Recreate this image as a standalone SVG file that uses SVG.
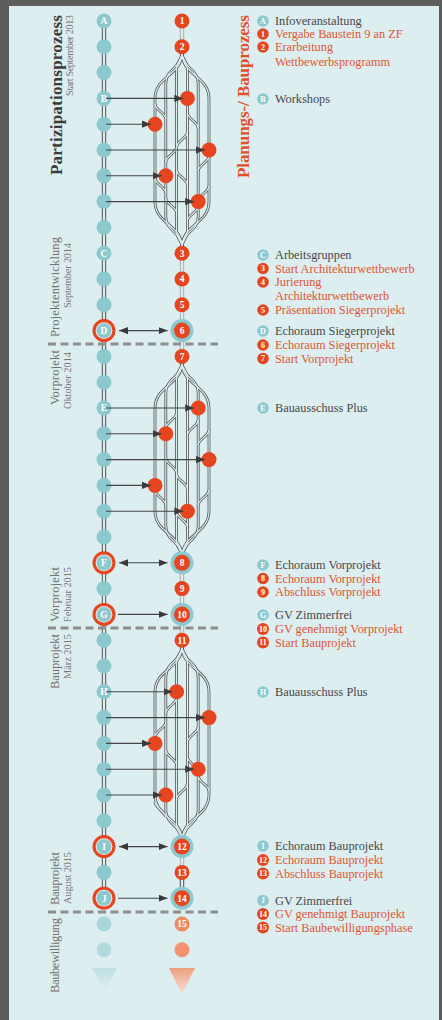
<svg xmlns="http://www.w3.org/2000/svg" width="442" height="1020" viewBox="0 0 442 1020">
<style>
.panel{fill:#ddeef0}
.t{fill:#8bc9ce}
.o{fill:#e5461f}
.nt{font-family:"Liberation Serif","DejaVu Serif",serif;font-weight:bold;font-size:9.5px;fill:#fff;text-anchor:middle}
.leg{font-family:"Liberation Serif","DejaVu Serif",serif;font-size:12.3px}
.lg{fill:#474747}
.lo{fill:#e05530}
.it{font-family:"Liberation Serif","DejaVu Serif",serif;font-weight:bold;font-size:8px;fill:#fff;text-anchor:middle}
.ro{fill:none;stroke:#555;stroke-width:2.8}
.ri{fill:none;stroke:#ddeef0;stroke-width:1.2}
.col{fill:none;stroke:#5e5e5e;stroke-width:4.4}
.lite{fill:none;stroke:#b3b3b3;stroke-width:4.4}
.colin{fill:none;stroke:#ddeef0;stroke-width:2.2}
.arr{fill:none;stroke:#454545;stroke-width:1.1;marker-end:url(#ah)}
.arr2{fill:none;stroke:#454545;stroke-width:1.1;marker-start:url(#ah);marker-end:url(#ah)}
.dash{stroke:#8e8e8e;stroke-width:3;stroke-dasharray:8 4.5}
.title{font-family:"Liberation Serif","DejaVu Serif",serif;font-weight:bold;font-size:17px}
.lab{font-family:"Liberation Serif","DejaVu Serif",serif;font-size:12.5px;fill:#6f6f6f}
.sub{font-family:"Liberation Serif","DejaVu Serif",serif;font-size:10.3px;fill:#767676}
</style>
<defs>
<marker id="ah" markerUnits="userSpaceOnUse" markerWidth="10" markerHeight="8" refX="9" refY="4" orient="auto-start-reverse"><path d="M0,0.4 L9,4 L0,7.6z" fill="#3a3a3a"/></marker>
<linearGradient id="gt" x1="0" y1="0" x2="0" y2="1"><stop offset="0" stop-color="#bfe0e3"/><stop offset="1" stop-color="#ddeef0"/></linearGradient>
<linearGradient id="go" x1="0" y1="0" x2="0" y2="1"><stop offset="0" stop-color="#eb9f7f"/><stop offset="1" stop-color="#f9e0d4"/></linearGradient>
<g id="lanes">
<path d="M182,6 C182,28.9 155,28.9 155,51.8 V154.6 C155,177.5 182,177.5 182,200.4"/>
<path d="M182,6 C182,28.9 209,28.9 209,51.8 V154.6 C209,177.5 182,177.5 182,200.4"/>
<path d="M182,6 C182,21.35 165.8,21.35 165.8,36.7 V169.7 C165.8,185.05 182,185.05 182,200.4"/>
<path d="M182,6 C182,21.35 198.2,21.35 198.2,36.7 V169.7 C198.2,185.05 182,185.05 182,200.4"/>
<path d="M182,6 C182,13.8 176.6,13.8 176.6,21.6 V184.8 C176.6,192.6 182,192.6 182,200.4"/>
<path d="M182,6 C182,13.8 187.4,13.8 187.4,21.6 V184.8 C187.4,192.6 182,192.6 182,200.4"/>
</g>
<g id="x1">
<path d="M155,104 C155,110 165.8,113 165.8,119"/>
<path d="M187.4,113 C187.4,119 198.2,122 198.2,128"/>
<path d="M187.4,132 C187.4,138 176.6,141 176.6,147"/>
<path d="M176.6,147 C176.6,153 165.8,156 165.8,162"/>
<path d="M209,156 C209,162 198.2,165 198.2,171"/>
<path d="M176.6,170 C176.6,176 187.4,179 187.4,185"/>
<path d="M155,178 C155,184 165.8,187 165.8,193"/>
<path d="M209,186 C209,192 198.2,195 198.2,201"/>
<path d="M165.8,198 C165.8,204 176.6,207 176.6,213"/>
<path d="M198.2,206 C198.2,212 187.4,215 187.4,221"/>
</g>
<g id="x2">
<path d="M176.6,413 C176.6,419 165.8,422 165.8,428"/>
<path d="M198.2,420 C198.2,426 187.4,429 187.4,435"/>
<path d="M209,430 C209,436 198.2,439 198.2,445"/>
<path d="M165.8,458 C165.8,464 176.6,467 176.6,473"/>
<path d="M176.6,474 C176.6,480 187.4,483 187.4,489"/>
<path d="M209,490 C209,496 198.2,499 198.2,505"/>
<path d="M155,490 C155,496 165.8,499 165.8,505"/>
<path d="M176.6,512 C176.6,518 187.4,521 187.4,527"/>
</g>
<g id="x3">
<path d="M176.6,698 C176.6,704 165.8,707 165.8,713"/>
<path d="M165.8,722 C165.8,728 155,731 155,737"/>
<path d="M198.2,727 C198.2,733 187.4,736 187.4,742"/>
<path d="M165.8,750 C165.8,756 176.6,759 176.6,765"/>
<path d="M187.4,757 C187.4,763 198.2,766 198.2,772"/>
<path d="M198.2,776 C198.2,782 209,785 209,791"/>
<path d="M187.4,784 C187.4,790 176.6,793 176.6,799"/>
<path d="M155,802 C155,808 165.8,811 165.8,817"/>
</g>
</defs>

<rect x="0" y="0" width="442" height="1020" fill="#5c5c5c"/>
<rect class="panel" x="9" y="6" width="430" height="1014"/>

<g id="titles">
<text class="title" fill="#3b3b3b" text-anchor="end" textLength="160" transform="translate(61.5,15) rotate(-90)">Partizipationsprozess</text>
<text class="sub" text-anchor="end" textLength="81" transform="translate(72.5,15) rotate(-90)">Start September 2013</text>
<text class="title" fill="#e3502a" text-anchor="end" textLength="163" transform="translate(249,15) rotate(-90)">Planungs-/ Bauprozess</text>
<text class="lab" textLength="100" transform="translate(59,337) rotate(-90)">Projektentwicklung</text>
<text class="sub" textLength="65" transform="translate(70.5,308) rotate(-90)">September 2014</text>
<text class="lab" textLength="55" transform="translate(59,405) rotate(-90)">Vorprojekt</text>
<text class="sub" textLength="57" transform="translate(70.5,409) rotate(-90)">Oktober 2014</text>
<text class="lab" textLength="55" transform="translate(59,622) rotate(-90)">Vorprojekt</text>
<text class="sub" textLength="55" transform="translate(70.5,622) rotate(-90)">Februar 2015</text>
<text class="lab" textLength="55" transform="translate(59,689) rotate(-90)">Bauprojekt</text>
<text class="sub" textLength="45" transform="translate(70.5,679) rotate(-90)">März 2015</text>
<text class="lab" textLength="53" transform="translate(59,905) rotate(-90)">Bauprojekt</text>
<text class="sub" textLength="52" transform="translate(70.5,904) rotate(-90)">August 2015</text>
<text class="lab" textLength="75" transform="translate(59,993) rotate(-90)">Baubewilligung</text>
</g>

<g id="connectors">
<path class="col" d="M104,21 V898.2"/><path class="colin" d="M104,21 V898.2"/>
<path class="lite" d="M182,21 V46.8 M182,253.2 V356.4 M182,562.8 V640.2 M182,846.6 V872.4"/>
<path class="col" d="M182,872.4 V898.2"/>
<path class="colin" d="M182,21 V46.8 M182,253.2 V356.4 M182,562.8 V640.2 M182,846.6 V898.2"/>
<g id="net1-rails">
<use href="#lanes" class="ro" transform="translate(0,46.8)"/><use href="#x1" class="ro"/>
<use href="#lanes" class="ri" transform="translate(0,46.8)"/><use href="#x1" class="ri"/>
</g>
<g id="net2-rails">
<use href="#lanes" class="ro" transform="translate(0,356.4)"/><use href="#x2" class="ro"/>
<use href="#lanes" class="ri" transform="translate(0,356.4)"/><use href="#x2" class="ri"/>
</g>
<g id="net3-rails">
<use href="#lanes" class="ro" transform="translate(0,640.2)"/><use href="#x3" class="ro"/>
<use href="#lanes" class="ri" transform="translate(0,640.2)"/><use href="#x3" class="ri"/>
</g>
<line class="dash" x1="48" y1="344" x2="218" y2="344"/>
<line class="dash" x1="48" y1="628" x2="218" y2="628"/>
<line class="dash" x1="48" y1="912" x2="218" y2="912"/>
</g>

<g id="left-nodes">
<g id="nA"><circle class="t" cx="104" cy="21" r="7.5"/><text class="nt" x="104" y="24.3">A</text></g>
<g id="l1"><circle class="t" cx="104" cy="46.8" r="7.5"/></g>
<g id="l2"><circle class="t" cx="104" cy="72.6" r="7.5"/></g>
<g id="nB"><circle class="t" cx="104" cy="98.4" r="7.5"/><text class="nt" x="104" y="101.7">B</text></g>
<g id="l4"><circle class="t" cx="104" cy="124.2" r="7.5"/></g>
<g id="l5"><circle class="t" cx="104" cy="150" r="7.5"/></g>
<g id="l6"><circle class="t" cx="104" cy="175.8" r="7.5"/></g>
<g id="l7"><circle class="t" cx="104" cy="201.6" r="7.5"/></g>
<g id="l8"><circle class="t" cx="104" cy="227.4" r="7.5"/></g>
<g id="nC"><circle class="t" cx="104" cy="253.2" r="7.5"/><text class="nt" x="104" y="256.5">C</text></g>
<g id="l10"><circle class="t" cx="104" cy="279" r="7.5"/></g>
<g id="l11"><circle class="t" cx="104" cy="304.8" r="7.5"/></g>
<g id="nD"><circle class="o" cx="104" cy="330.6" r="11.5"/><circle fill="#f4f4f4" cx="104" cy="330.6" r="8.4"/><circle class="t" cx="104" cy="330.6" r="7.6"/><text class="nt" x="104" y="333.9">D</text></g>
<g id="l13"><circle class="t" cx="104" cy="356.4" r="7.5"/></g>
<g id="l14"><circle class="t" cx="104" cy="382.2" r="7.5"/></g>
<g id="nE"><circle class="t" cx="104" cy="408" r="7.5"/><text class="nt" x="104" y="411.3">E</text></g>
<g id="l16"><circle class="t" cx="104" cy="433.8" r="7.5"/></g>
<g id="l17"><circle class="t" cx="104" cy="459.6" r="7.5"/></g>
<g id="l18"><circle class="t" cx="104" cy="485.4" r="7.5"/></g>
<g id="l19"><circle class="t" cx="104" cy="511.2" r="7.5"/></g>
<g id="l20"><circle class="t" cx="104" cy="537" r="7.5"/></g>
<g id="nF"><circle class="o" cx="104" cy="562.8" r="11.5"/><circle fill="#f4f4f4" cx="104" cy="562.8" r="8.4"/><circle class="t" cx="104" cy="562.8" r="7.6"/><text class="nt" x="104" y="566.1">F</text></g>
<g id="l22"><circle class="t" cx="104" cy="588.6" r="7.5"/></g>
<g id="nG"><circle class="o" cx="104" cy="614.4" r="11.5"/><circle fill="#f4f4f4" cx="104" cy="614.4" r="8.4"/><circle class="t" cx="104" cy="614.4" r="7.6"/><text class="nt" x="104" y="617.7">G</text></g>
<g id="l24"><circle class="t" cx="104" cy="640.2" r="7.5"/></g>
<g id="l25"><circle class="t" cx="104" cy="666" r="7.5"/></g>
<g id="nH"><circle class="t" cx="104" cy="691.8" r="7.5"/><text class="nt" x="104" y="695.1">H</text></g>
<g id="l27"><circle class="t" cx="104" cy="717.6" r="7.5"/></g>
<g id="l28"><circle class="t" cx="104" cy="743.4" r="7.5"/></g>
<g id="l29"><circle class="t" cx="104" cy="769.2" r="7.5"/></g>
<g id="l30"><circle class="t" cx="104" cy="795" r="7.5"/></g>
<g id="l31"><circle class="t" cx="104" cy="820.8" r="7.5"/></g>
<g id="nI"><circle class="o" cx="104" cy="846.6" r="11.5"/><circle fill="#f4f4f4" cx="104" cy="846.6" r="8.4"/><circle class="t" cx="104" cy="846.6" r="7.6"/><text class="nt" x="104" y="849.9">I</text></g>
<g id="l33"><circle class="t" cx="104" cy="872.4" r="7.5"/></g>
<g id="nJ"><circle class="o" cx="104" cy="898.2" r="11.5"/><circle fill="#f4f4f4" cx="104" cy="898.2" r="8.4"/><circle class="t" cx="104" cy="898.2" r="7.6"/><text class="nt" x="104" y="901.5">J</text></g>
<g id="l35"><circle fill="#a8d6d9" cx="104" cy="924" r="7.5"/></g>
<g id="l36"><circle fill="#b2dadd" cx="104" cy="949.8" r="7.5"/></g>
<g id="l-end"><polygon points="92,968 117,968 104.5,991" fill="url(#gt)"/></g>
</g>

<g id="right-nodes">
<g id="n1"><circle class="o" cx="182" cy="21" r="7.5"/><text class="nt" x="182" y="24.3">1</text></g>
<g id="n2"><circle class="o" cx="182" cy="46.8" r="7.5"/><text class="nt" x="182" y="50.1">2</text></g>
<g id="n3"><circle class="o" cx="182" cy="253.2" r="7.5"/><text class="nt" x="182" y="256.5">3</text></g>
<g id="n4"><circle class="o" cx="182" cy="279" r="7.5"/><text class="nt" x="182" y="282.3">4</text></g>
<g id="n5"><circle class="o" cx="182" cy="304.8" r="7.5"/><text class="nt" x="182" y="308.1">5</text></g>
<g id="n6"><circle class="t" cx="182" cy="330.6" r="11.5"/><circle class="o" cx="182" cy="330.6" r="8"/><text class="nt" x="182" y="333.9">6</text></g>
<g id="n7"><circle class="o" cx="182" cy="356.4" r="7.5"/><text class="nt" x="182" y="359.7">7</text></g>
<g id="n8"><circle class="t" cx="182" cy="562.8" r="11.5"/><circle class="o" cx="182" cy="562.8" r="8"/><text class="nt" x="182" y="566.1">8</text></g>
<g id="n9"><circle class="o" cx="182" cy="588.6" r="7.5"/><text class="nt" x="182" y="591.9">9</text></g>
<g id="n10"><circle class="t" cx="182" cy="614.4" r="11.5"/><circle class="o" cx="182" cy="614.4" r="8"/><text class="nt" x="182" y="617.7">10</text></g>
<g id="n11"><circle class="o" cx="182" cy="640.2" r="7.5"/><text class="nt" x="182" y="643.5">11</text></g>
<g id="n12"><circle class="t" cx="182" cy="846.6" r="11.5"/><circle class="o" cx="182" cy="846.6" r="8"/><text class="nt" x="182" y="849.9">12</text></g>
<g id="n13"><circle class="o" cx="182" cy="872.4" r="7.5"/><text class="nt" x="182" y="875.7">13</text></g>
<g id="n14"><circle class="t" cx="182" cy="898.2" r="11.5"/><circle class="o" cx="182" cy="898.2" r="8"/><text class="nt" x="182" y="901.5">14</text></g>
<g id="n15"><circle fill="#ee8a61" cx="182" cy="924" r="7.5"/><text class="nt" x="182" y="927.3">15</text></g>
<g id="r16"><circle fill="#f0936e" cx="182" cy="949.8" r="7.5"/></g>
<g id="r-end"><polygon points="169,968 195,968 182,994" fill="url(#go)"/></g>
</g>

<g id="network-nodes">
<g id="p1a"><circle class="o" cx="187.4" cy="98.4" r="7.5"/></g>
<g id="p1b"><circle class="o" cx="155" cy="124.2" r="7.5"/></g>
<g id="p1c"><circle class="o" cx="209" cy="150" r="7.5"/></g>
<g id="p1d"><circle class="o" cx="165.8" cy="175.8" r="7.5"/></g>
<g id="p1e"><circle class="o" cx="198.2" cy="201.6" r="7.5"/></g>
<g id="p2a"><circle class="o" cx="198.2" cy="408" r="7.5"/></g>
<g id="p2b"><circle class="o" cx="165.8" cy="433.8" r="7.5"/></g>
<g id="p2c"><circle class="o" cx="209" cy="459.6" r="7.5"/></g>
<g id="p2d"><circle class="o" cx="155" cy="485.4" r="7.5"/></g>
<g id="p2e"><circle class="o" cx="187.4" cy="511.2" r="7.5"/></g>
<g id="p3a"><circle class="o" cx="176.6" cy="691.8" r="7.5"/></g>
<g id="p3b"><circle class="o" cx="209" cy="717.6" r="7.5"/></g>
<g id="p3c"><circle class="o" cx="155" cy="743.4" r="7.5"/></g>
<g id="p3d"><circle class="o" cx="198.2" cy="769.2" r="7.5"/></g>
<g id="p3e"><circle class="o" cx="165.8" cy="795" r="7.5"/></g>
</g>

<g id="arrows">
<line class="arr" x1="106" y1="98.4" x2="183.4" y2="98.4"/>
<line class="arr" x1="106" y1="124.2" x2="151" y2="124.2"/>
<line class="arr" x1="106" y1="150" x2="205" y2="150"/>
<line class="arr" x1="106" y1="175.8" x2="161.8" y2="175.8"/>
<line class="arr" x1="106" y1="201.6" x2="194.2" y2="201.6"/>
<line class="arr" x1="106" y1="408" x2="194.2" y2="408"/>
<line class="arr" x1="106" y1="433.8" x2="161.8" y2="433.8"/>
<line class="arr" x1="106" y1="459.6" x2="205" y2="459.6"/>
<line class="arr" x1="106" y1="485.4" x2="151" y2="485.4"/>
<line class="arr" x1="106" y1="511.2" x2="183.4" y2="511.2"/>
<line class="arr" x1="106" y1="691.8" x2="172.6" y2="691.8"/>
<line class="arr" x1="106" y1="717.6" x2="205" y2="717.6"/>
<line class="arr" x1="106" y1="743.4" x2="151" y2="743.4"/>
<line class="arr" x1="106" y1="769.2" x2="194.2" y2="769.2"/>
<line class="arr" x1="106" y1="795" x2="161.8" y2="795"/>
<line class="arr2" x1="119" y1="330.6" x2="167.5" y2="330.6"/>
<line class="arr2" x1="119" y1="562.8" x2="167.5" y2="562.8"/>
<line class="arr" x1="118" y1="614.4" x2="167.5" y2="614.4"/>
<line class="arr2" x1="119" y1="846.6" x2="167.5" y2="846.6"/>
<line class="arr" x1="118" y1="898.2" x2="167.5" y2="898.2"/>
</g>

<g id="legend" class="leg">
<circle class="t" cx="263" cy="21" r="5.8"/><text class="it" x="263" y="23.8">A</text><text class="lg" x="275" y="25">Infoveranstaltung</text>
<circle class="o" cx="263" cy="34" r="5.8"/><text class="it" x="263" y="36.8">1</text><text class="lo" x="275" y="38">Vergabe Baustein 9 an ZF</text>
<circle class="o" cx="263" cy="47" r="5.8"/><text class="it" x="263" y="49.8">2</text><text class="lo" x="275" y="51">Erarbeitung</text>
<text class="lo" x="275" y="65.5">Wettbewerbsprogramm</text>
<circle class="t" cx="263" cy="99" r="5.8"/><text class="it" x="263" y="101.8">B</text><text class="lg" x="275" y="103">Workshops</text>

<circle class="t" cx="263" cy="255" r="5.8"/><text class="it" x="263" y="257.8">C</text><text class="lg" x="275" y="259">Arbeitsgruppen</text>
<circle class="o" cx="263" cy="268.5" r="5.8"/><text class="it" x="263" y="271.3">3</text><text class="lo" x="275" y="272.5">Start Architekturwettbewerb</text>
<circle class="o" cx="263" cy="282" r="5.8"/><text class="it" x="263" y="284.8">4</text><text class="lo" x="275" y="286">Jurierung</text>
<text class="lo" x="275" y="300">Architekturwettbewerb</text>
<circle class="o" cx="263" cy="310" r="5.8"/><text class="it" x="263" y="312.8">5</text><text class="lo" x="275" y="314">Präsentation Siegerprojekt</text>
<circle class="t" cx="263" cy="331" r="5.8"/><text class="it" x="263" y="333.8">D</text><text class="lg" x="275" y="335">Echoraum Siegerprojekt</text>
<circle class="o" cx="263" cy="345" r="5.8"/><text class="it" x="263" y="347.8">6</text><text class="lo" x="275" y="349">Echoraum Siegerprojekt</text>
<circle class="o" cx="263" cy="358.5" r="5.8"/><text class="it" x="263" y="361.3">7</text><text class="lo" x="275" y="362.5">Start Vorprojekt</text>

<circle class="t" cx="263" cy="408" r="5.8"/><text class="it" x="263" y="410.8">E</text><text class="lg" x="275" y="412">Bauausschuss Plus</text>

<circle class="t" cx="263" cy="565" r="5.8"/><text class="it" x="263" y="567.8">F</text><text class="lg" x="275" y="569">Echoraum Vorprojekt</text>
<circle class="o" cx="263" cy="578.5" r="5.8"/><text class="it" x="263" y="581.3">8</text><text class="lo" x="275" y="582.5">Echoraum Vorprojekt</text>
<circle class="o" cx="263" cy="592" r="5.8"/><text class="it" x="263" y="594.8">9</text><text class="lo" x="275" y="596">Abschluss Vorprojekt</text>
<circle class="t" cx="263" cy="615" r="5.8"/><text class="it" x="263" y="617.8">G</text><text class="lg" x="275" y="619">GV Zimmerfrei</text>
<circle class="o" cx="263" cy="629" r="6"/><text class="it" x="263" y="631.8">10</text><text class="lo" x="275" y="633">GV genehmigt Vorprojekt</text>
<circle class="o" cx="263" cy="642.5" r="6"/><text class="it" x="263" y="645.3">11</text><text class="lo" x="275" y="646.5">Start Bauprojekt</text>

<circle class="t" cx="263" cy="692" r="5.8"/><text class="it" x="263" y="694.8">H</text><text class="lg" x="275" y="696">Bauausschuss Plus</text>

<circle class="t" cx="263" cy="846" r="5.8"/><text class="it" x="263" y="848.8">I</text><text class="lg" x="275" y="850">Echoraum Bauprojekt</text>
<circle class="o" cx="263" cy="860" r="6"/><text class="it" x="263" y="862.8">12</text><text class="lo" x="275" y="864">Echoraum Bauprojekt</text>
<circle class="o" cx="263" cy="873.5" r="6"/><text class="it" x="263" y="876.3">13</text><text class="lo" x="275" y="877.5">Abschluss Bauprojekt</text>
<circle class="t" cx="263" cy="900.5" r="5.8"/><text class="it" x="263" y="903.3">J</text><text class="lg" x="275" y="904.5">GV Zimmerfrei</text>
<circle class="o" cx="263" cy="914" r="6"/><text class="it" x="263" y="916.8">14</text><text class="lo" x="275" y="918">GV genehmigt Bauprojekt</text>
<circle class="o" cx="263" cy="927.5" r="6"/><text class="it" x="263" y="930.3">15</text><text class="lo" x="275" y="931.5">Start Baubewilligungsphase</text>
</g>
</svg>
